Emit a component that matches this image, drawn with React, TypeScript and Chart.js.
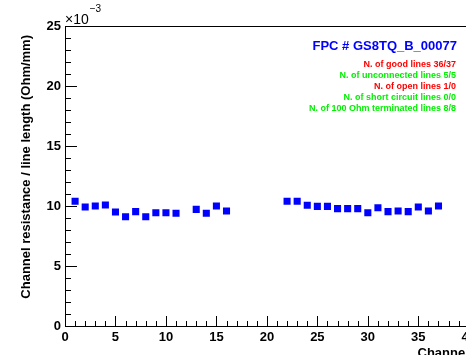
import React, { useEffect, useRef } from "react";
import { Chart, registerables } from "chart.js";

Chart.register(...registerables);

const channelsA = [1, 2, 3, 4, 5, 6, 7, 8, 9, 10, 11];
const valuesA = [10.39, 9.92, 10.0, 10.08, 9.5, 9.11, 9.53, 9.11, 9.44, 9.44, 9.39];
const channelsB = [13, 14, 15, 16];
const valuesB = [9.72, 9.39, 10.0, 9.58];
const channelsC = [22, 23, 24, 25, 26, 27, 28, 29, 30, 31, 32, 33, 34, 35, 36, 37];
const valuesC = [10.39, 10.39, 10.06, 9.97, 9.97, 9.78, 9.78, 9.78, 9.44, 9.86, 9.53, 9.58, 9.53, 9.92, 9.58, 10.0];

const xTicks = [0, 5, 10, 15, 20, 25, 30, 35, 40];
const yTicks = [0, 5, 10, 15, 20, 25];

const titleText = "FPC # GS8TQ_B_00077";
const infoLines = [
  { text: "N. of good lines 36/37", color: "#ff0000" },
  { text: "N. of unconnected lines 5/5", color: "#00f000" },
  { text: "N. of open lines 1/0", color: "#ff0000" },
  { text: "N. of short circuit lines 0/0", color: "#00f000" },
  { text: "N. of 100 Ohm terminated lines 8/8", color: "#00f000" },
];
const xTitle = "Channel";
const yTitle = "Channel resistance / line length (Ohm/mm)";

const FONT = "'Liberation Sans', Arial, Helvetica, sans-serif";

const points = [
  ...channelsA.map((c, i) => ({ x: c, y: valuesA[i] })),
  ...channelsB.map((c, i) => ({ x: c, y: valuesB[i] })),
  ...channelsC.map((c, i) => ({ x: c, y: valuesC[i] })),
];

const decorPlugin = {
  id: "decor",
  afterDraw(chart: any) {
    const ctx = chart.ctx;
    const xs = chart.scales.x;
    const ys = chart.scales.y;
    const { left, right, top, bottom } = chart.chartArea;
    ctx.save();
    ctx.strokeStyle = "#000";
    ctx.lineWidth = 1;
    ctx.beginPath();
    ctx.rect(left + 0.5, top + 0.5, right - left, bottom - top);
    ctx.stroke();
    ctx.beginPath();
    for (let v = xs.min; v <= xs.max; v += 1) {
      const px = Math.round(xs.getPixelForValue(v)) + 0.5;
      const len = v % 5 === 0 ? 10 : 5;
      ctx.moveTo(px, bottom);
      ctx.lineTo(px, bottom - len);
    }
    for (let v = ys.min; v <= ys.max; v += 1) {
      const py = Math.round(ys.getPixelForValue(v)) + 0.5;
      const len = v % 5 === 0 ? 12 : 6;
      ctx.moveTo(left, py);
      ctx.lineTo(left + len, py);
    }
    ctx.stroke();

    // exponent
    ctx.fillStyle = "#000";
    ctx.textBaseline = "alphabetic";
    ctx.textAlign = "left";
    ctx.font = `14px ${FONT}`;
    ctx.fillText("\u00d710", left, 24);
    const w = ctx.measureText("\u00d710").width;
    ctx.font = `10px ${FONT}`;
    ctx.fillText("\u22123", left + w + 1, 12);

    // axis titles
    ctx.font = `bold 13px ${FONT}`;
    ctx.textAlign = "right";
    ctx.fillText(xTitle, right, 357);
    ctx.save();
    ctx.translate(30, top + 9);
    ctx.rotate(-Math.PI / 2);
    ctx.textAlign = "right";
    ctx.fillText(yTitle, 0, 0);
    ctx.restore();

    // info text
    ctx.textAlign = "right";
    ctx.fillStyle = "#0000ff";
    ctx.font = `bold 13px ${FONT}`;
    ctx.fillText(titleText, 457, 50);
    ctx.font = `bold 9px ${FONT}`;
    infoLines.forEach((l, i) => {
      ctx.fillStyle = l.color;
      ctx.fillText(l.text, 456, 66.5 + i * 11.2);
    });
    ctx.restore();
  },
};

export default function App() {
  const ref = useRef<HTMLCanvasElement>(null);
  useEffect(() => {
    if (!ref.current) return;
    const chart = new Chart(ref.current, {
      type: "scatter",
      data: {
        datasets: [
          {
            data: points,
            pointStyle: "rect",
            pointRadius: 5,
            pointBorderWidth: 0,
            backgroundColor: "#0000ff",
            borderColor: "#0000ff",
          },
        ],
      },
      options: {
        animation: false,
        responsive: false,
        devicePixelRatio: 1,
        layout: { padding: { top: 26, right: 11, left: 0, bottom: 0 } },
        plugins: { legend: { display: false }, tooltip: { enabled: false } },
        scales: {
          x: {
            type: "linear",
            min: 0,
            max: 40,
            afterFit: (s: any) => {
              s.height = 29;
            },
            afterBuildTicks: (s: any) => {
              s.ticks = xTicks.map((v) => ({ value: v }));
            },
            grid: { display: false, drawTicks: false },
            border: { display: false },
            ticks: {
              padding: 4,
              maxRotation: 0,
              autoSkip: false,
              color: "#000",
              font: { family: FONT, size: 13, weight: "bold" },
            },
          },
          y: {
            type: "linear",
            min: 0,
            max: 25,
            afterFit: (s: any) => {
              s.width = 65;
            },
            afterBuildTicks: (s: any) => {
              s.ticks = yTicks.map((v) => ({ value: v }));
            },
            grid: { display: false, drawTicks: false },
            border: { display: false },
            ticks: {
              padding: 4,
              autoSkip: false,
              color: "#000",
              font: { family: FONT, size: 13, weight: "bold" },
            },
          },
        },
      },
      plugins: [decorPlugin],
    });
    return () => chart.destroy();
  }, []);
  return (
    <div
      style={{
        position: "fixed",
        left: 0,
        top: 0,
        width: 466,
        height: 355,
        overflow: "hidden",
        background: "#fff",
      }}
    >
      <canvas ref={ref} width={480} height={355} style={{ display: "block" }} />
    </div>
  );
}
